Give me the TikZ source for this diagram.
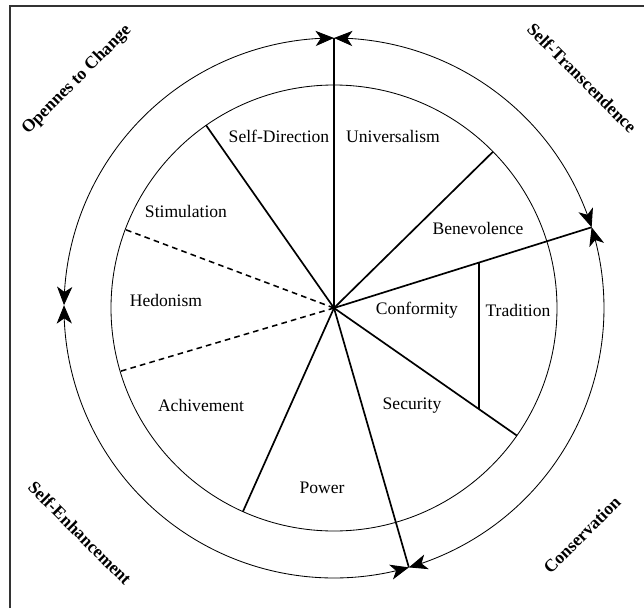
\documentclass[tikz,border=0pt]{standalone}
\usepackage{fontspec}
\setmainfont{Liberation Serif}
\usetikzlibrary{arrows.meta,bending}

\begin{document}
\begin{tikzpicture}[
  seg/.style={line width=1.2pt},
  dsh/.style={line width=1.1pt, dash pattern=on 4pt off 3pt},
  ring/.style={line width=0.6pt},
  half/.style={ring, {Stealth[length=4.6mm,width=3.8mm,inset=1.3mm]}-{Stealth[length=4.6mm,width=3.8mm,inset=1.3mm]}},
  val/.style={font=\fontsize{12.5}{14}\selectfont},
  dim/.style={font=\fontsize{12.5}{14}\selectfont\bfseries}]
  \useasboundingbox (-8.35,-7.5) rectangle (7.75,7.7);
  % frame (only top and left edges show)
  \draw[line width=0.8pt, black!80] (-8.1,-7.5) -- (-8.1,7.55) -- (7.75,7.55);
  \coordinate (O) at (0,0);
  \draw[ring] (O) circle[radius=5.575];
  % junctions on the outer ring
  \coordinate (T) at (90:6.75);
  \coordinate (R) at (17.4:6.75);
  \coordinate (B) at (-73.9:6.75);
  \coordinate (L) at (179.4:6.75);
  % ends on the inner circle
  \coordinate (SS) at (125:5.575);
  \coordinate (SH) at (159.4:5.575);
  \coordinate (HA) at (196.5:5.575);
  \coordinate (AP) at (245.9:5.575);
  \coordinate (ST) at (-34.9:5.575);
  \coordinate (UB) at (44.5:5.575);
  \coordinate (T1) at (3.625,{3.625*tan(17.4)});
  \coordinate (T2) at (3.625,{-3.625*tan(34.9)});
  % outer ring, four arcs
  \draw[half] (T) arc[start angle=90, end angle=17.4, radius=6.75];
  \draw[half] (R) arc[start angle=17.4, end angle=-73.9, radius=6.75];
  \draw[half] (B) arc[start angle=-73.9, end angle=-180.6, radius=6.75];
  \draw[half] (L) arc[start angle=179.4, end angle=90, radius=6.75];
  % dividing lines
  \draw[seg] (O) -- (T);
  \draw[seg] (O) -- (R);
  \draw[seg] (O) -- (B);
  \draw[seg] (O) -- (SS);
  \draw[seg] (O) -- (AP);
  \draw[seg] (O) -- (ST);
  \draw[seg] (O) -- (UB);
  \draw[seg] (T1) -- (T2);
  \draw[dsh] (O) -- (SH);
  \draw[dsh] (O) -- (HA);
  % values
  \node[val] (SD) at (-1.375,4.3) {Self-Direction};
  \node[val] (UN) at (1.475,4.3) {Universalism};
  \node[val] (STI) at (-3.7,2.425) {Stimulation};
  \node[val] (BE) at (3.6,2.0) {Benevolence};
  \node[val] (HE) at (-4.2,0.2) {Hedonism};
  \node[val] (CO) at (2.075,-0.05) {Conformity};
  \node[val] (TR) at (4.6,-0.05) {Tradition};
  \node[val] (AC) at (-3.325,-2.425) {Achivement};
  \node[val] (SE) at (1.95,-2.45) {Security};
  \node[val] (PO) at (-0.3,-4.5) {Power};
  % dimensions
  \node[dim, rotate=45] (OC) at (-6.425,5.7) {Opennes to Change};
  \node[dim, rotate=-45] (STR) at (6.2,5.75) {Self-Transcendence};
  \node[dim, rotate=-45] (SEN) at (-6.35,-5.625) {Self-Enhancement};
  \node[dim, rotate=45] (CON) at (6.2,-5.675) {Conservation};
\end{tikzpicture}
\end{document}
